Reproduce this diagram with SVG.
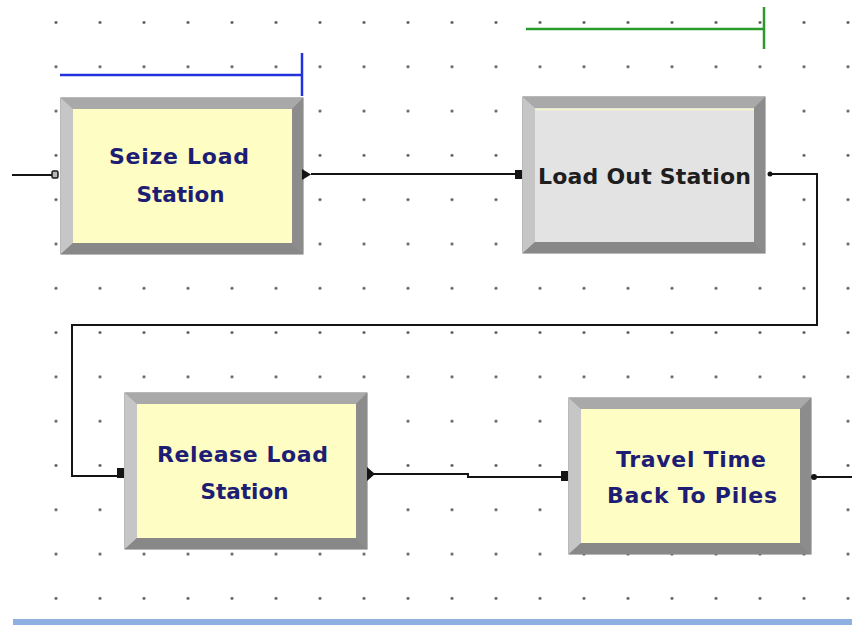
<svg xmlns="http://www.w3.org/2000/svg" xmlns:xlink="http://www.w3.org/1999/xlink" width="852" height="625" viewBox="0 0 852 625">
  <style>
    .wire { fill: none; stroke: #141414; stroke-width: 2; }
    .term { fill: #141414; }
    .label { font-family: "DejaVu Sans", "Liberation Sans", sans-serif; font-weight: bold; font-size: 22px; fill: #1d1d74; text-anchor: middle; }
    .label.dark { fill: #1e1e1e; }
    .face-y { fill: #fefdc4; }
    .face-g { fill: #e3e3e3; }
  </style>
  <defs>
    <!-- grid snap dots -->
    <pattern id="grid" x="55.5" y="22" width="44" height="44.3" patternUnits="userSpaceOnUse">
      <circle cx="0.5" cy="0.5" r="1.4" fill="#4a4a4a"/>
      <circle cx="44.5" cy="0.5" r="1.4" fill="#4a4a4a"/>
      <circle cx="0.5" cy="44.8" r="1.4" fill="#4a4a4a"/>
      <circle cx="44.5" cy="44.8" r="1.4" fill="#4a4a4a"/>
    </pattern>
    <!-- bevelled module frame, 242 x 156 -->
    <g id="frame">
      <rect x="0" y="0" width="242" height="156" fill="#9a9a9a" stroke="#747474" stroke-width="1"/>
      <polygon points="0,0 242,0 231,11 12,11" fill="#a9a9a9"/>
      <polygon points="0,0 12,11 12,145 0,156" fill="#c6c6c6"/>
      <polygon points="242,0 242,156 231,145 231,11" fill="#8c8c8c"/>
      <polygon points="0,156 12,145 231,145 242,156" fill="#888888"/>
    </g>
  </defs>

  <rect width="852" height="625" fill="#ffffff"/>
  <rect x="40" y="0" width="812" height="610" fill="url(#grid)"/>

  <!-- resource brackets -->
  <g id="bracket-blue" fill="none" stroke="#2233dd" stroke-width="2.5">
    <line x1="60" y1="75" x2="302" y2="75"/>
    <line x1="302" y1="53" x2="302" y2="96"/>
  </g>
  <g id="bracket-green" fill="none" stroke="#2a9a2a" stroke-width="2.5">
    <line x1="526" y1="29" x2="764" y2="29"/>
    <line x1="764" y1="7" x2="764" y2="49"/>
  </g>

  <!-- connectors -->
  <g id="connectors">
    <polyline class="wire" points="12,175 52,175"/>
    <polyline class="wire" points="311,174 515,174"/>
    <polyline class="wire" points="772,174 817,174 817,325 72,325 72,476 117,476"/>
    <polyline class="wire" points="374,474 468,474 468,477 561,477"/>
    <polyline class="wire" points="816,477 852,477"/>
  </g>

  <g id="seize-load-station">
    <use xlink:href="#frame" x="61" y="98"/>
    <rect class="face-y" x="73" y="109" width="219" height="134"/>
    <text class="label" x="179" y="164" textLength="140" lengthAdjust="spacing">Seize Load</text>
    <text class="label" x="180.5" y="202" textLength="88" lengthAdjust="spacingAndGlyphs">Station</text>
    <rect x="52" y="171" width="6" height="7" rx="1.5" fill="#b8b8b8" stroke="#1a1a1a" stroke-width="1.5"/>
    <polygon class="term" points="302,169 311,174.5 302,180"/>
  </g>

  <g id="load-out-station">
    <use xlink:href="#frame" x="523" y="97"/>
    <rect class="face-g" x="535" y="108" width="219" height="134"/>
    <line x1="535" y1="109.5" x2="754" y2="109.5" stroke="#f4f4c8" stroke-width="1.5"/>
    <text class="label dark" x="644.5" y="184" textLength="213" lengthAdjust="spacing">Load Out Station</text>
    <rect class="term" x="515" y="170" width="7" height="9"/>
    <circle class="term" cx="770" cy="174" r="2.5"/>
  </g>

  <g id="release-load-station">
    <use xlink:href="#frame" x="125" y="393"/>
    <rect class="face-y" x="137" y="404" width="219" height="134"/>
    <text class="label" x="242.5" y="462" textLength="171" lengthAdjust="spacing">Release Load</text>
    <text class="label" x="244.5" y="499" textLength="88" lengthAdjust="spacingAndGlyphs">Station</text>
    <rect class="term" x="117" y="468" width="7" height="10"/>
    <polygon class="term" points="367,467 375,474 367,481"/>
  </g>

  <g id="travel-time-back-to-piles">
    <use xlink:href="#frame" x="569" y="398"/>
    <rect class="face-y" x="581" y="409" width="219" height="134"/>
    <text class="label" x="691" y="467" textLength="150" lengthAdjust="spacing">Travel Time</text>
    <text class="label" x="692" y="503" textLength="170" lengthAdjust="spacing">Back To Piles</text>
    <rect class="term" x="561" y="471" width="7" height="10"/>
    <circle class="term" cx="814" cy="477" r="3"/>
  </g>

  <!-- window edge -->
  <rect x="13" y="619" width="839" height="6" fill="#8fb1e1"/>
</svg>
